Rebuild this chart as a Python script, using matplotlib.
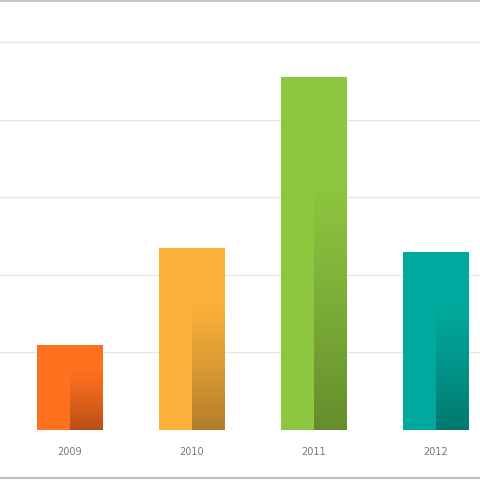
import numpy as np
import matplotlib.pyplot as plt
from matplotlib.colors import to_rgb

years = ["2009", "2010", "2011", "2012"]
values = [22, 47, 91, 46]
bar_colors = ["#FF701F", "#FBB03B", "#8DC63F", "#00A99D"]

fig = plt.figure(figsize=(4.8, 4.8), dpi=100)
fig.patch.set_facecolor("white")

# axes spans from the baseline (y=430px) up to the top edge
ax = fig.add_axes([0, 50 / 480, 1, 430 / 480])
ax.set_xlim(-70 / 122, 410 / 122)
ax.set_ylim(0, 430 / 77.6 * 20)
for s in ax.spines.values():
    s.set_visible(False)
ax.set_xticks([])
ax.set_yticks([])

# light gridlines
for g in range(0, 101, 20):
    ax.axhline(g, color="#E6E6E6", lw=1.0, zorder=0)

width = 66 / 122
x = np.arange(len(years))
ax.bar(x, values, width=width, color=bar_colors, zorder=2)

# darker gradient on the right half of each bar
for xi, v, c in zip(x, values, bar_colors):
    r, g, b = to_rgb(c)
    n = 100
    alpha = np.linspace(0.0, 1.0, n) ** 1.2  # 0 at top, 1 at bottom
    grad = np.zeros((n, 1, 4))
    dark = np.array([r, g, b]) * 0.7
    grad[:, 0, :3] = dark
    grad[:, 0, 3] = alpha[:, None].ravel() * 0.95
    top = v * 0.72
    ax.imshow(grad, extent=(xi, xi + width / 2, 0, top), aspect="auto",
              origin="upper", zorder=3, interpolation="bilinear")

ax.set_xlim(-70 / 122, 410 / 122)
ax.set_ylim(0, 430 / 77.6 * 20)

# year labels
for xi, yr in zip(x, years):
    fig.text((70 + 122 * xi) / 480, 1 - 452 / 480, yr, ha="center", va="center",
             fontsize=7, color="#777777")

# frame lines at top and bottom
fig.add_artist(plt.Line2D([0, 1], [1 - 1 / 480, 1 - 1 / 480], color="#C8C8C8", lw=1.5))
fig.add_artist(plt.Line2D([0, 1], [1 - 478 / 480, 1 - 478 / 480], color="#BDBDBD", lw=1.5))

fig.savefig("out.png", dpi=100)
